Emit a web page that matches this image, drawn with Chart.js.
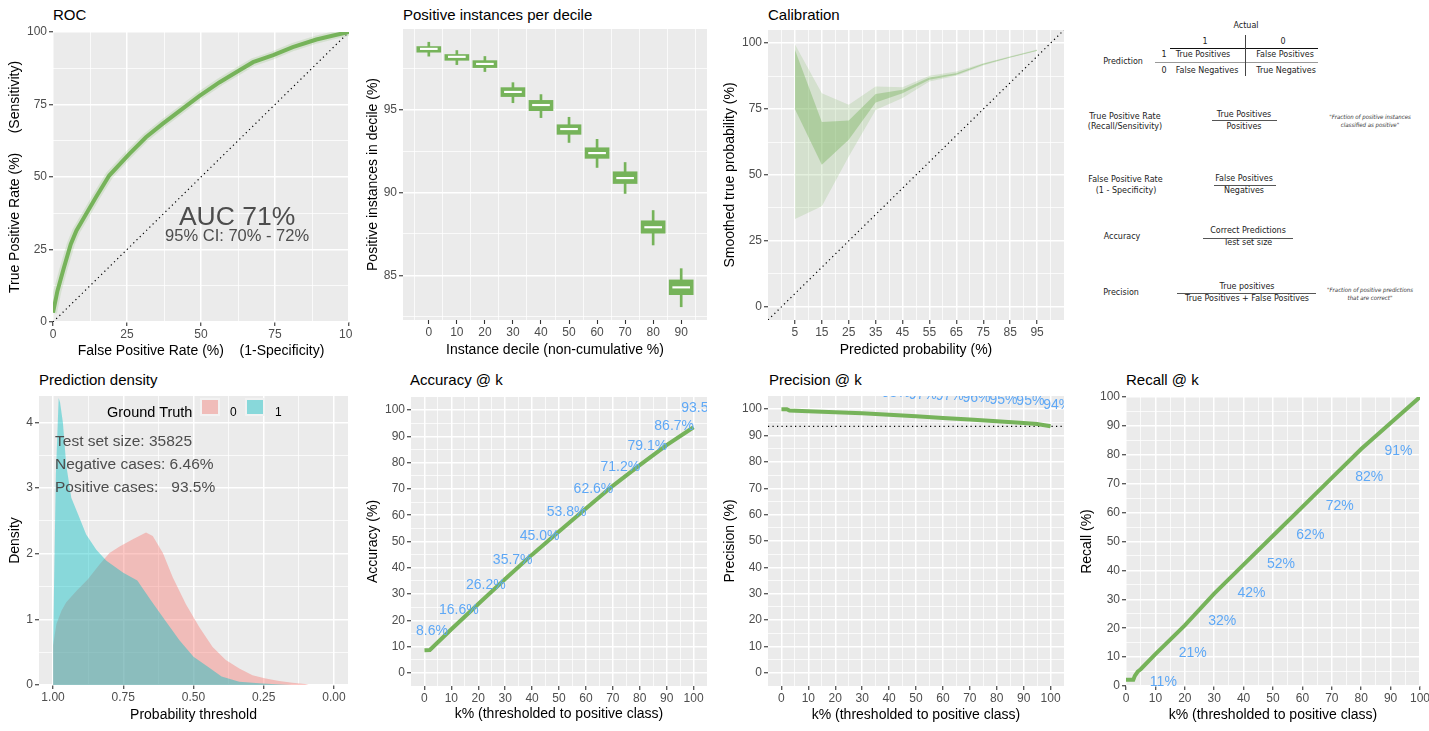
<!DOCTYPE html>
<html>
<head>
<meta charset="utf-8">
<script src="https://cdn.jsdelivr.net/npm/chart.js@4.4.1/dist/chart.umd.min.js"></script>
<style>
  body { margin: 0; width: 1429px; height: 731px; background: #fff; position: relative; overflow: hidden; font-family: "Liberation Sans", Arial, sans-serif; }
  .cell { position: absolute; }
  .ttl { position: absolute; font-size: 15px; line-height: 18px; color: #000; white-space: nowrap; }
  .t { position: absolute; transform: translate(-50%, -50%); white-space: nowrap; font-family: "DejaVu Sans", sans-serif; font-size: 8px; line-height: 1; color: #222; }
  .note { font-style: italic; font-size: 6px; font-family: "DejaVu Sans Condensed", "DejaVu Sans", sans-serif; color: #333; }
  .hl { position: absolute; height: 1px; background: #555; }
  .vl { position: absolute; width: 1px; background: #555; }
  .leg { position: absolute; white-space: nowrap; color: #000; }
  .sw { position: absolute; width: 16px; height: 14px; border: 2px solid #F2F2F2; }
</style>
</head>
<body>

<div class="ttl" style="left:53px;top:6px">ROC</div>
<div class="ttl" style="left:403px;top:6px">Positive instances per decile</div>
<div class="ttl" style="left:768px;top:6px">Calibration</div>
<div class="ttl" style="left:39px;top:371px">Prediction density</div>
<div class="ttl" style="left:410px;top:371px">Accuracy @ k</div>
<div class="ttl" style="left:769px;top:371px">Precision @ k</div>
<div class="ttl" style="left:1126px;top:371px">Recall @ k</div>

<script>
// ---------- data ----------
// ROC
const rocFpr = [0, 1.5, 3.7, 6, 7.9, 10.5, 14.5, 19, 25.8, 31.4, 37, 43.8, 49.5, 56.3, 63, 67.6, 74.4, 81, 89, 94.7, 100];
const rocTpr = [3.2, 10.7, 18.8, 26.8, 31.5, 36, 43, 50.5, 58, 63.7, 68.3, 73.6, 78, 82.7, 86.8, 89.6, 92, 94.8, 97.4, 98.8, 100];
const aucLabel = 'AUC 71%';
const aucCi = '95% CI: 70% - 72%';

// positive instances per decile (box plots)
const deciles = [0, 10, 20, 30, 40, 50, 60, 70, 80, 90];
const whiskLo = [98.23, 97.72, 97.30, 95.42, 94.52, 93.02, 91.51, 89.94, 86.83, 83.10];
const boxLo   = [98.47, 97.98, 97.54, 95.79, 94.94, 93.51, 92.06, 90.54, 87.54, 83.83];
const medians = [98.67, 98.19, 97.76, 96.07, 95.28, 93.83, 92.38, 90.87, 87.90, 84.27];
const boxHi   = [98.81, 98.33, 97.96, 96.33, 95.56, 94.09, 92.70, 91.25, 88.29, 84.72];
const whiskHi = [99.07, 98.57, 98.21, 96.63, 95.91, 94.54, 93.21, 91.81, 88.91, 85.40];

// calibration
const calX     = [5, 15, 25, 35, 45, 55, 65, 75, 85, 95];
const outerHi  = [99.6, 81, 76.6, 83.6, 83.3, 87.6, 89.3, 92.4, 95, 97.6];
const outerLo  = [33.3, 38.1, 57, 74.7, 79.2, 85.5, 87.6, 91.5, 94.5, 97];
const innerHi  = [97.5, 70.1, 70.7, 80.7, 82.3, 87, 88.6, 92.2, 94.9, 97.4];
const innerLo  = [75, 53.9, 63.4, 77.5, 81, 86.1, 88, 91.8, 94.6, 97.1];

// prediction density
const dens1X = [1.0, 0.99, 0.98, 0.975, 0.965, 0.953, 0.935, 0.911, 0.882, 0.846, 0.81, 0.75, 0.70, 0.65, 0.60, 0.55, 0.50, 0.45, 0.40, 0.337, 0.266, 0.207, 0.15];
const dens1Y = [0.6, 3.2, 4.37, 4.3, 4.0, 3.35, 2.85, 2.6, 2.29, 2.06, 1.89, 1.71, 1.59, 1.28, 0.98, 0.68, 0.43, 0.28, 0.13, 0.05, 0.025, 0.01, 0];
const dens0X = [1.0, 0.988, 0.97, 0.953, 0.917, 0.876, 0.834, 0.799, 0.763, 0.716, 0.669, 0.645, 0.609, 0.574, 0.527, 0.479, 0.432, 0.385, 0.337, 0.29, 0.243, 0.195, 0.148, 0.103, 0.09];
const dens0Y = [0.6, 0.93, 1.13, 1.26, 1.43, 1.61, 1.84, 2.01, 2.11, 2.22, 2.32, 2.27, 2.01, 1.64, 1.23, 0.88, 0.58, 0.38, 0.25, 0.15, 0.1, 0.06, 0.035, 0.015, 0];
const testInfo = ['Test set size: 35825', 'Negative cases: 6.46%', 'Positive cases:   93.5%'];
const testInfoY = [3.7, 3.35, 3.0];

// @ k curves
const accK = [0, 2, 10, 20, 30, 40, 50, 60, 70, 80, 90, 100];
const accV = [8.6, 8.7, 16.6, 26.2, 35.7, 45.0, 53.8, 62.6, 71.2, 79.1, 86.7, 93.5];
const precK = [0, 2, 3, 10, 20, 30, 40, 50, 60, 70, 80, 90, 95, 100];
const precV = [100, 100, 99.5, 99.2, 98.8, 98.5, 97.9, 97.3, 96.7, 96.1, 95.4, 94.8, 94.4, 93.5];
const recK = [0, 2.5, 3, 4, 5, 10, 20, 30, 40, 50, 60, 70, 80, 90, 100];
const recV = [2.2, 2.2, 3.5, 5, 5.8, 11, 21, 32, 42, 52, 62, 72, 82, 91, 100];
const prevalence = 93.5;

// value labels on the @ k panels
const accLabK = [0, 10, 20, 30, 40, 50, 60, 70, 80, 90, 100];
const accLabV = [8.6, 16.6, 26.2, 35.7, 45.0, 53.8, 62.6, 71.2, 79.1, 86.7, 93.5];
const precLabK = [0, 10, 20, 30, 40, 50, 60, 70, 80, 90, 100];
const precLabV = [100, 99.2, 98.8, 98.5, 97.9, 97.3, 96.7, 96.1, 95.4, 94.8, 93.5];
const recLabK = [10, 20, 30, 40, 50, 60, 70, 80, 90];
const recLabV = [11, 21, 32, 42, 52, 62, 72, 82, 91];

// ---------- helpers ----------
Chart.defaults.font.family = '"Liberation Sans", Arial, sans-serif';
const GREEN = '#76B35A';
const BLUE = '#5EA8F6';
const pts = (xs, ys) => xs.map((x, i) => ({ x, y: ys[i] }));
const seq = (a, b, s) => { const r = []; for (let v = a; v <= b + 1e-9; v += s) r.push(+v.toFixed(4)); return r; };
const key = v => Math.round(v * 10000);

const panelBg = {
    id: 'panelBg',
    beforeDraw(chart) {
        const a = chart.chartArea, c = chart.ctx;
        c.save();
        c.fillStyle = '#EBEBEB';
        c.fillRect(a.left, a.top, a.right - a.left, a.bottom - a.top);
        c.restore();
    }
};

function textLayer(items, clip) {
    return {
        id: 'textLayer',
        afterDatasetsDraw(chart) {
            const { ctx, chartArea: a, scales: { x, y } } = chart;
            ctx.save();
            if (clip) {
                ctx.beginPath();
                ctx.rect(a.left, a.top, a.right - a.left, a.bottom - a.top);
                ctx.clip();
            }
            items.forEach(it => {
                ctx.font = it.font;
                ctx.fillStyle = it.color;
                ctx.textAlign = it.align || 'center';
                ctx.textBaseline = 'middle';
                ctx.fillText(it.text, x.getPixelForValue(it.x), y.getPixelForValue(it.y));
            });
            ctx.restore();
        }
    };
}

// ggplot-like axis: white major/minor grid, ticks only where labelled
function axis(o) {
    const major = new Set((o.major || []).map(key));
    const minor = new Set((o.minor || []).map(key));
    const labelled = o.labels || o.major;
    const labels = new Set(labelled.map(key));
    const all = [...new Set([...(o.major || []), ...(o.minor || []), ...labelled])].sort((a, b) => a - b);
    const tv = c => (c.tick ? key(c.tick.value) : NaN);
    return {
        type: 'linear', min: o.min, max: o.max, reverse: !!o.reverse, offset: false, beginAtZero: false,
        afterBuildTicks: s => { s.ticks = all.map(v => ({ value: v })); },
        afterFit: s => {
            if (o.horiz) s.height = o.size; else s.width = o.size;
            s.paddingLeft = s.paddingRight = s.paddingTop = s.paddingBottom = 0;
        },
        ticks: {
            autoSkip: false, maxRotation: 0, minRotation: 0, padding: o.horiz ? 1.5 : 2,
            color: '#4D4D4D', font: { size: 12 },
            callback: v => labels.has(key(v)) ? (o.fmt ? o.fmt(v) : String(v)) : ''
        },
        grid: {
            offset: false, drawTicks: true, tickLength: 4, tickWidth: 1.1,
            color: c => (major.has(tv(c)) || minor.has(tv(c))) ? '#FFFFFF' : 'rgba(0,0,0,0)',
            lineWidth: c => major.has(tv(c)) ? 1.5 : 0.75,
            tickColor: c => labels.has(tv(c)) ? '#333333' : 'rgba(0,0,0,0)'
        },
        border: { display: false },
        title: { display: true, text: o.title, color: '#000', font: { size: 14 }, padding: { top: 6.6, bottom: 2 } }
    };
}

function makeChart(box, type, datasets, xAxis, yAxis, plugins) {
    const div = document.createElement('div');
    div.className = 'cell';
    div.style.cssText = `left:${box.left}px;top:${box.top}px;width:${box.w}px;height:${box.h}px`;
    const cv = document.createElement('canvas');
    div.appendChild(cv);
    document.body.appendChild(div);
    return new Chart(cv, {
        type,
        data: { datasets },
        options: {
            responsive: true, maintainAspectRatio: false, animation: false, events: [],
            layout: { padding: { top: box.padTop, right: box.padRight, left: 0, bottom: 0 } },
            elements: { point: { radius: 0 }, line: { tension: 0 } },
            plugins: { legend: { display: false }, tooltip: { enabled: false } },
            scales: { x: xAxis, y: yAxis }
        },
        plugins: [panelBg, ...(plugins || [])]
    });
}

const dotted = { borderColor: '#000', borderWidth: 1.2, borderDash: [1.2, 3.3], fill: false };

// ---------- ROC ----------
makeChart({ left: 0, top: 0, w: 352, h: 362, padTop: 32, padRight: 3 }, 'line', [
    { data: pts(rocFpr, rocTpr), borderColor: GREEN, borderWidth: 4, fill: false },
    { data: pts(rocFpr, rocTpr), borderColor: 'rgba(118,179,90,0.18)', borderWidth: 8, fill: false },
    { data: pts([0, 100], [0, 100]), ...dotted }
],
    axis({ horiz: true, size: 40, min: 0, max: 100, major: seq(0, 100, 25), minor: seq(12.5, 87.5, 25), title: 'False Positive Rate (%)    (1-Specificity)' }),
    axis({ size: 53, min: 0, max: 100, major: seq(0, 100, 25), minor: seq(12.5, 87.5, 25), title: 'True Positive Rate (%)     (Sensitivity)' }),
    [textLayer([
        { text: aucLabel, x: 62.2, y: 36.1, font: '26.5px "Liberation Sans"', color: '#4D4D4D' },
        { text: aucCi, x: 62.2, y: 29.5, font: '16.5px "Liberation Sans"', color: '#4D4D4D' }
    ], true)]);

// ---------- positive instances per decile ----------
makeChart({ left: 358, top: 0, w: 354, h: 361, padTop: 29, padRight: 5 }, 'bar', [
    { data: deciles.map((d, i) => ({ x: d, y: [medians[i] - 0.045, medians[i] + 0.045] })), backgroundColor: '#FFFFFF', barThickness: 17, grouped: false },
    { data: deciles.map((d, i) => ({ x: d, y: [boxLo[i], boxHi[i]] })), backgroundColor: GREEN, barThickness: 24, grouped: false },
    { data: deciles.map((d, i) => ({ x: d, y: [whiskLo[i], whiskHi[i]] })), backgroundColor: GREEN, barThickness: 2, grouped: false }
],
    axis({ horiz: true, size: 41, min: -9.2, max: 99.2, major: [], minor: seq(-5, 95, 10), labels: deciles, title: 'Instance decile (non-cumulative %)' }),
    axis({ size: 45, min: 82.3, max: 99.87, major: [85, 90, 95], minor: [82.5, 87.5, 92.5, 97.5], title: 'Positive instances in decile (%)' }));

// ---------- calibration ----------
makeChart({ left: 715, top: 0, w: 353, h: 361, padTop: 30, padRight: 4 }, 'line', [
    { data: pts(calX, innerHi), borderWidth: 0, fill: '+1', backgroundColor: 'rgba(118,178,90,0.4)' },
    { data: pts(calX, innerLo), borderWidth: 0, fill: false },
    { data: pts(calX, outerHi), borderWidth: 0, fill: '+1', backgroundColor: 'rgba(118,178,90,0.2)' },
    { data: pts(calX, outerLo), borderWidth: 0, fill: false },
    { data: pts([-5, 105], [-5, 105]), ...dotted }
],
    axis({ horiz: true, size: 41, min: -5, max: 105, major: seq(5, 95, 10), minor: seq(0, 100, 10), title: 'Predicted probability (%)' }),
    axis({ size: 53, min: -5, max: 105, major: seq(0, 100, 25), minor: seq(12.5, 87.5, 25), title: 'Smoothed true probability (%)' }));

// ---------- prediction density ----------
makeChart({ left: 0, top: 365, w: 352, h: 361, padTop: 31, padRight: 4 }, 'line', [
    { data: pts(dens1X, dens1Y), borderWidth: 0, fill: 'origin', backgroundColor: 'rgba(0,191,196,0.42)' },
    { data: pts(dens0X, dens0Y), borderWidth: 0, fill: 'origin', backgroundColor: 'rgba(248,118,109,0.4)' }
],
    axis({ horiz: true, size: 41, min: -0.05, max: 1.05, reverse: true, major: seq(0, 1, 0.25), minor: seq(0.125, 0.875, 0.25), fmt: v => v.toFixed(2), title: 'Probability threshold' }),
    axis({ size: 39, min: 0, max: 4.4, major: seq(0, 4, 1), minor: seq(0.5, 3.5, 1), title: 'Density' }),
    [textLayer(testInfo.map((t, i) => ({ text: t, x: 0.993, y: testInfoY[i], align: 'left', font: '15.5px "Liberation Sans"', color: '#4D4D4D' })), true)]);

// ---------- accuracy @ k ----------
makeChart({ left: 358, top: 365, w: 354, h: 360, padTop: 32, padRight: 5 }, 'line', [
    { data: pts(accK, accV), borderColor: GREEN, borderWidth: 4, fill: false }
],
    axis({ horiz: true, size: 39, min: -5, max: 105, major: seq(0, 100, 10), minor: seq(5, 95, 10), title: 'k% (thresholded to positive class)' }),
    axis({ size: 53, min: -5, max: 105, major: seq(0, 100, 10), minor: seq(5, 95, 10), title: 'Accuracy (%)' }),
    [textLayer(accLabK.map((k, i) => ({ text: accLabV[i].toFixed(1) + '%', x: k + 2.8, y: accLabV[i] + 7.2, font: '14px "Liberation Sans"', color: BLUE })), true)]);

// ---------- precision @ k ----------
makeChart({ left: 715, top: 365, w: 353, h: 361, padTop: 31, padRight: 4 }, 'line', [
    { data: pts(precK, precV), borderColor: GREEN, borderWidth: 4, fill: false },
    { data: pts([-5, 105], [prevalence, prevalence]), ...dotted }
],
    axis({ horiz: true, size: 40, min: -5, max: 105, major: seq(0, 100, 10), minor: seq(5, 95, 10), title: 'k% (thresholded to positive class)' }),
    axis({ size: 53, min: -5, max: 105, major: seq(0, 100, 10), minor: seq(5, 95, 10), title: 'Precision (%)' }),
    [textLayer(precLabK.map((k, i) => ({ text: Math.round(precLabV[i]) + '%', x: k + 2.5, y: precLabV[i] + 8.2, font: '14px "Liberation Sans"', color: BLUE })), true)]);

// ---------- recall @ k ----------
makeChart({ left: 1072, top: 365, w: 357, h: 361, padTop: 32, padRight: 9 }, 'line', [
    { data: pts(recK, recV), borderColor: GREEN, borderWidth: 4, fill: false }
],
    axis({ horiz: true, size: 40, min: 0, max: 100, major: seq(0, 100, 10), minor: seq(5, 95, 10), title: 'k% (thresholded to positive class)' }),
    axis({ size: 54, min: 0, max: 100, major: seq(0, 100, 10), minor: seq(5, 95, 10), title: 'Recall (%)' }),
    [textLayer(recLabK.map((k, i) => ({ text: recLabV[i] + '%', x: k + 2.7, y: recLabV[i] - 9.7, font: '14px "Liberation Sans"', color: BLUE })), true)]);

// ---------- density legend ----------
function put(html, cls, css) {
    const d = document.createElement('div');
    d.className = cls;
    d.style.cssText = css;
    d.innerHTML = html;
    document.body.appendChild(d);
}
put('Ground Truth', 'leg', 'left:107px;top:403px;font-size:14.5px;line-height:18px');
put('', 'sw', 'left:200px;top:398px;background:rgba(248,118,109,0.4)');
put('0', 'leg', 'left:230px;top:405px;font-size:12px;line-height:14px');
put('', 'sw', 'left:245px;top:398px;background:rgba(0,191,196,0.42)');
put('1', 'leg', 'left:275px;top:405px;font-size:12px;line-height:14px');

// ---------- definitions panel ----------
const defs = [
    ['Actual', 1246, 26], ['1', 1205, 42], ['0', 1283, 42],
    ['Prediction', 1123, 62],
    ['1', 1164, 55], ['True Positives', 1203, 55], ['False Positives', 1285, 55],
    ['0', 1164, 71], ['False Negatives', 1207, 71], ['True Negatives', 1286, 71],
    ['True Positive Rate', 1125, 117], ['(Recall/Sensitivity)', 1125, 127],
    ['True Positives', 1244, 115], ['Positives', 1244, 126.5],
    ['False Positive Rate', 1125.5, 180], ['(1 - Specificity)', 1126, 191],
    ['False Positives', 1244, 179], ['Negatives', 1244, 191],
    ['Accuracy', 1122, 237],
    ['Correct Predictions', 1248, 231], ['Test set size', 1248, 243],
    ['Precision', 1121, 293],
    ['True positives', 1247, 287], ['True Positives + False Positives', 1247, 298.5]
];
defs.forEach(([t, x, y]) => put(t, 't', `left:${x}px;top:${y}px`));
const notes = [
    ['"Fraction of positive instances', 1370, 117], ['classified as positive"', 1370, 125],
    ['"Fraction of positive predictions', 1370, 290], ['that are correct"', 1370, 297.5]
];
notes.forEach(([t, x, y]) => put(t, 't note', `left:${x}px;top:${y}px`));
// rules of the matrix and the fraction bars
[[1170, 1318, 48, '#111'], [1155, 1318, 62, '#999'], [1212, 1277, 120, '#555'], [1214, 1276, 185, '#555'],
 [1203, 1293, 237.5, '#555'], [1177, 1316, 292.5, '#555']].forEach(([a, b, y, c]) =>
    put('', 'hl', `left:${a}px;top:${y}px;width:${b - a}px;background:${c}`));
put('', 'vl', 'left:1245px;top:35px;height:41px;background:#444');
</script>
</body>
</html>
